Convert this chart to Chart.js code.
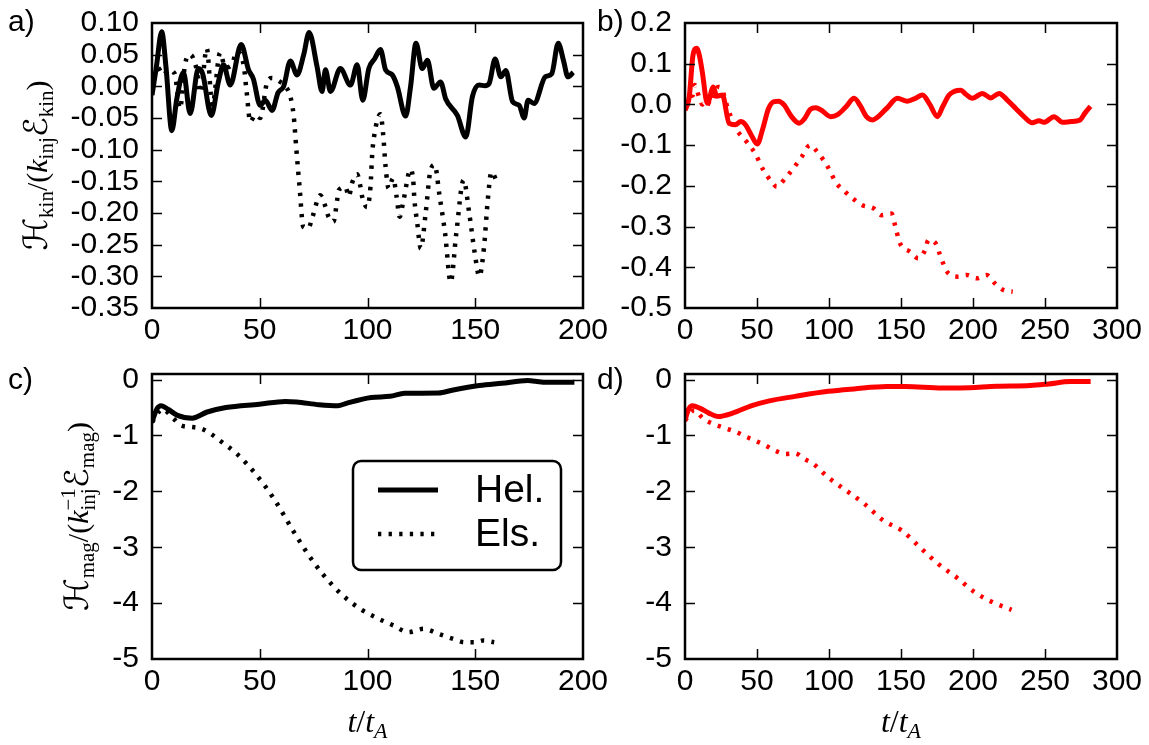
<!DOCTYPE html>
<html>
<head>
<meta charset="utf-8">
<script src="https://cdn.jsdelivr.net/npm/chart.js@4.4.1/dist/chart.umd.min.js"></script>
<style>
  html, body { margin: 0; padding: 0; background: #fff; }
  #wrap { position: relative; width: 1149px; height: 745px; overflow: hidden; }
  canvas { position: absolute; }
</style>
</head>
<body>
<div id="wrap">
  <canvas id="pa" width="625" height="366" style="left:0;top:0"></canvas>
  <canvas id="pb" width="564" height="366" style="left:585px;top:0"></canvas>
  <canvas id="pc" width="625" height="379" style="left:0;top:366px"></canvas>
  <canvas id="pd" width="564" height="379" style="left:585px;top:366px"></canvas>
</div>
<script>
// ---- data: [t/tA, value] ----
const kinHelA = [[0,-0.014],[2,0.03],[4.5,0.086],[6.5,0.03],[9.2,-0.07],[11.5,-0.02],[14.6,0.022],[17.7,-0.043],[21.5,0.028],[23.5,0.02],[27.5,-0.046],[30.8,0.007],[33.2,0.034],[36.3,0.002],[41.4,0.066],[44.8,0.026],[47,0.012],[50.2,-0.03],[52.6,-0.022],[55.7,-0.038],[58.5,-0.01],[61.1,0.0],[64.2,0.04],[67.3,0.018],[70.4,0.05],[72.9,0.085],[76.6,0.031],[78.9,-0.008],[80.5,0.026],[82.8,-0.008],[87.4,0.028],[92.1,0.002],[95.2,0.034],[97.8,-0.022],[100.6,0.028],[103.4,0.044],[106,0.058],[108.4,0.026],[111.5,0.018],[113.8,0.0],[117.7,-0.047],[120,0.0],[122.5,0.068],[125.4,0.028],[127.8,0.041],[130.8,-0.003],[133.9,0.007],[136.3,-0.02],[141.7,-0.046],[145.6,-0.08],[148.7,-0.016],[151.8,0.002],[154.5,0.001],[156.5,0.005],[159.2,0.043],[161.9,0.015],[164.2,0.025],[167.3,-0.024],[170.4,-0.03],[172.7,-0.05],[174.5,-0.022],[177.3,-0.027],[182.5,0.015],[185.5,0.02],[188.5,0.068],[191,0.04],[193,0.015],[195.5,0.022]];
const kinElsA = [[0,0.0],[2.5,0.03],[5.3,0.018],[7.6,0.026],[10.5,0.02],[13,-0.035],[15.3,0.034],[17.7,0.05],[20.5,0.03],[22.5,-0.01],[25.4,0.06],[28,-0.03],[31.6,0.053],[34,0.03],[37,0.034],[39.4,0.055],[42.5,0.034],[43.9,-0.008],[45.6,-0.056],[47.9,-0.045],[50.2,-0.05],[53.3,0.005],[55.7,0.013],[59.5,0.007],[61.9,0.0],[64.2,-0.016],[65.7,-0.045],[67,-0.1],[68.5,-0.16],[70.2,-0.222],[72.6,-0.224],[74.3,-0.208],[78.1,-0.172],[80.5,-0.19],[81.9,-0.206],[84.2,-0.214],[85.9,-0.18],[86.6,-0.164],[89.8,-0.159],[91.3,-0.174],[92.9,-0.152],[95.2,-0.139],[96.7,-0.158],[97.5,-0.174],[99.8,-0.191],[101.4,-0.158],[102.2,-0.106],[103.3,-0.074],[106,-0.044],[107.3,-0.077],[108.4,-0.127],[109.8,-0.161],[111.9,-0.145],[113.5,-0.174],[114.9,-0.206],[116.7,-0.18],[120,-0.131],[121.2,-0.148],[121.8,-0.18],[123.1,-0.216],[124.7,-0.256],[127,-0.2],[129,-0.137],[131.2,-0.124],[133.4,-0.172],[136,-0.232],[138.6,-0.309],[141.2,-0.232],[144.6,-0.148],[147.2,-0.2],[149.8,-0.264],[151.9,-0.3],[154.1,-0.253],[155.8,-0.18],[157.5,-0.135],[160.1,-0.151]];

const kinHelB = [[0,-0.015],[3,0.02],[5.5,0.12],[8.1,0.138],[10,0.12],[12,0.08],[15.5,0.003],[19.7,0.043],[22,0.02],[26,0.023],[30.6,-0.046],[35,-0.05],[38.7,-0.042],[42,-0.05],[46,-0.075],[50.2,-0.097],[54,-0.06],[58,-0.01],[61.8,0.007],[65,0.008],[68.8,-0.001],[74,-0.03],[79.2,-0.046],[83,-0.035],[87,-0.012],[90.8,-0.008],[95,-0.015],[101.2,-0.03],[106,-0.025],[112,-0.005],[117.4,0.015],[122,-0.005],[126,-0.03],[130,-0.038],[140,-0.01],[147.5,0.015],[154.4,0.008],[160,0.015],[164.9,0.023],[170,0.0],[175.3,-0.03],[179,-0.005],[183.4,0.023],[187,0.032],[191.5,0.035],[195,0.025],[199.5,0.015],[206.5,0.027],[212.3,0.016],[218.1,0.027],[224,0.01],[229.7,-0.01],[235.4,-0.03],[241.2,-0.045],[245.8,-0.04],[249.3,-0.044],[256.3,-0.03],[262.2,-0.044],[268,-0.042],[274,-0.039],[278,-0.02],[281.6,-0.005]];
const kinElsB = [[0,0.0],[3,0.02],[5.5,0.023],[6.7,0.048],[9.7,0.019],[12,0.0],[15,0.01],[18,0.0],[20.5,0.03],[23.1,0.043],[26,0.035],[28,0.01],[30.6,-0.018],[34,-0.05],[35.9,-0.063],[42.9,-0.092],[48.6,-0.12],[54.4,-0.161],[60.2,-0.19],[63.7,-0.202],[69.5,-0.182],[75.2,-0.157],[81,-0.129],[86.8,-0.1],[92.6,-0.12],[98.4,-0.149],[105.3,-0.194],[111,-0.214],[117,-0.232],[122.7,-0.247],[130.8,-0.255],[136.6,-0.272],[143.5,-0.268],[145.8,-0.296],[149.3,-0.341],[156.3,-0.362],[162,-0.378],[166.7,-0.358],[169,-0.333],[174.8,-0.345],[177.1,-0.37],[182.9,-0.415],[189.8,-0.423],[195.6,-0.419],[202.6,-0.427],[209.5,-0.419],[215.3,-0.44],[221.1,-0.456],[227.6,-0.46]];

const magHelC = [[0,-0.76],[2.2,-0.53],[4.3,-0.47],[7.4,-0.53],[11.8,-0.64],[18.7,-0.69],[25.6,-0.58],[34.3,-0.5],[49.8,-0.44],[61.9,-0.39],[67.1,-0.4],[77.5,-0.45],[86.2,-0.47],[90.5,-0.42],[101.7,-0.32],[110.4,-0.3],[117.3,-0.245],[132.9,-0.24],[139.8,-0.185],[151.9,-0.107],[162.3,-0.066],[174.4,-0.018],[177.9,-0.03],[183,-0.048],[196,-0.048]];
const magElsC = [[0,-0.76],[4.8,-0.53],[10,-0.7],[13.5,-0.82],[18.7,-0.85],[23,-0.88],[27.3,-0.97],[32.5,-1.12],[39.4,-1.33],[48.1,-1.69],[56.7,-2.14],[65.4,-2.7],[72.3,-3.12],[79.2,-3.48],[87.9,-3.84],[96.5,-4.1],[105.2,-4.28],[112.1,-4.4],[119,-4.52],[126,-4.46],[132.9,-4.55],[139.8,-4.64],[145,-4.7],[150.2,-4.7],[153.6,-4.67],[158.8,-4.7]];

const magHelD = [[0,-0.73],[2.5,-0.53],[5.1,-0.47],[10.2,-0.51],[16.6,-0.6],[22.9,-0.66],[33.1,-0.6],[45.9,-0.47],[58.6,-0.38],[76.5,-0.3],[99.4,-0.21],[117.3,-0.167],[140.2,-0.125],[153,-0.125],[178.4,-0.15],[191.2,-0.15],[216.7,-0.12],[239.6,-0.107],[252.4,-0.078],[267.7,-0.036],[281.7,-0.036]];
const magElsD = [[0,-0.73],[6.4,-0.55],[12.7,-0.7],[20.4,-0.8],[28,-0.87],[35.7,-0.94],[42.1,-1.02],[48.4,-1.09],[56.1,-1.18],[62.5,-1.27],[70.1,-1.33],[76.5,-1.32],[82.8,-1.42],[89.2,-1.51],[99.4,-1.75],[112.2,-1.99],[124.9,-2.23],[137.6,-2.52],[150.4,-2.7],[163.1,-3.0],[175.9,-3.3],[188.6,-3.54],[201.4,-3.81],[214.1,-3.99],[226.8,-4.12]];

// ---- tick values ----
const xTicks200 = [0, 50, 100, 150, 200];
const xTicks300 = [0, 50, 100, 150, 200, 250, 300];
const yTicksA = [0.10, 0.05, 0.00, -0.05, -0.10, -0.15, -0.20, -0.25, -0.30, -0.35];
const yTicksB = [0.2, 0.1, 0.0, -0.1, -0.2, -0.3, -0.4, -0.5];
const yTicksMag = [0, -1, -2, -3, -4, -5];

const LABELS = ['Hel.', 'Els.'];
const BLACK = '#000000';
const RED = '#ff0000';

const TICK_FONT = { family: '"Liberation Sans", Arial, Helvetica, sans-serif', size: 30 };
const SERIF = '"Liberation Serif", "DejaVu Serif", serif';
const SCRIPT = '"DejaVu Serif", "DejaVu Sans", serif';
const TICK_LEN = 10;

function toXY(arr) { return arr.map(([x, y]) => ({ x, y })); }

function lineSet(label, arr, color, dotted) {
  return {
    label,
    data: toXY(arr),
    borderColor: color,
    backgroundColor: color,
    borderWidth: dotted ? 4.5 : 5,
    borderDash: dotted ? [3.3, 7.3] : [],
    borderCapStyle: 'butt',
    borderJoinStyle: 'round',
    pointRadius: 0,
    cubicInterpolationMode: 'monotone',
    fill: false,
  };
}

// draw a run of text pieces; piece = {t, font, dy} or {sup, sub, font, dySup, dySub}
function drawRich(ctx, pieces, x, y, align) {
  const widths = pieces.map(p => {
    ctx.font = p.font;
    if (p.t != null) return ctx.measureText(p.t).width;
    return Math.max(ctx.measureText(p.sup).width, ctx.measureText(p.sub).width);
  });
  const total = widths.reduce((a, b) => a + b, 0);
  let cx = align === 'center' ? x - total / 2 : x;
  ctx.textAlign = 'left';
  ctx.textBaseline = 'alphabetic';
  pieces.forEach((p, i) => {
    ctx.font = p.font;
    if (p.t != null) {
      ctx.fillText(p.t, cx, y + (p.dy || 0));
    } else {
      ctx.fillText(p.sup, cx, y + p.dySup);
      ctx.fillText(p.sub, cx, y + p.dySub);
    }
    cx += widths[i];
  });
}

const M = 30, S = 21, SC = 33;
const yTitleKin = [
  { t: 'ℋ', font: `${SC}px ${SCRIPT}` },
  { t: 'kin', font: `${S}px ${SERIF}`, dy: 6 },
  { t: '/(', font: `${M}px ${SERIF}` },
  { t: 'k', font: `italic ${M}px ${SERIF}` },
  { t: 'inj', font: `${S}px ${SERIF}`, dy: 6 },
  { t: 'ℰ', font: `${SC}px ${SCRIPT}` },
  { t: 'kin', font: `${S}px ${SERIF}`, dy: 6 },
  { t: ')', font: `${M}px ${SERIF}` },
];
const yTitleMag = [
  { t: 'ℋ', font: `${SC}px ${SCRIPT}` },
  { t: 'mag', font: `${S}px ${SERIF}`, dy: 6 },
  { t: '/(', font: `${M}px ${SERIF}` },
  { t: 'k', font: `italic ${M}px ${SERIF}` },
  { sup: '−1', sub: 'inj', font: `${S}px ${SERIF}`, dySup: -13, dySub: 7 },
  { t: 'ℰ', font: `${SC}px ${SCRIPT}` },
  { t: 'mag', font: `${S}px ${SERIF}`, dy: 6 },
  { t: ')', font: `${M}px ${SERIF}` },
];
const xTitle = [
  { t: 't', font: `italic 32px ${SERIF}` },
  { t: '/', font: `32px ${SERIF}` },
  { t: 't', font: `italic 32px ${SERIF}` },
  { t: 'A', font: `italic 22px ${SERIF}`, dy: 6 },
];

// frame with inward ticks on all four sides
const framePlugin = {
  id: 'frame',
  afterDatasetsDraw(chart) {
    const { ctx, chartArea: a, scales: { x, y } } = chart;
    ctx.save();
    ctx.strokeStyle = BLACK;
    ctx.lineWidth = 1.5;
    ctx.beginPath();
    x.ticks.forEach(t => {
      const px = Math.round(x.getPixelForValue(t.value)) + 0.5;
      if (px < a.left + 2 || px > a.right - 2) return;
      ctx.moveTo(px, a.bottom); ctx.lineTo(px, a.bottom - TICK_LEN);
      ctx.moveTo(px, a.top); ctx.lineTo(px, a.top + TICK_LEN);
    });
    y.ticks.forEach(t => {
      const py = Math.round(y.getPixelForValue(t.value)) + 0.5;
      if (py < a.top + 2 || py > a.bottom - 2) return;
      ctx.moveTo(a.left, py); ctx.lineTo(a.left + TICK_LEN, py);
      ctx.moveTo(a.right, py); ctx.lineTo(a.right - TICK_LEN, py);
    });
    ctx.stroke();
    ctx.lineWidth = 2.5;
    ctx.strokeRect(a.left, a.top, a.right - a.left, a.bottom - a.top);
    ctx.restore();
  },
};

// panel letter, axis titles, legend
const annotPlugin = {
  id: 'annot',
  afterDraw(chart, args, o) {
    const { ctx, chartArea: a } = chart;
    ctx.save();
    ctx.fillStyle = BLACK;
    ctx.font = `30px ${TICK_FONT.family}`;
    ctx.textAlign = 'left';
    ctx.textBaseline = 'alphabetic';
    ctx.fillText(o.letter, o.letterX, o.letterY);

    if (o.yTitle) {
      ctx.save();
      ctx.translate(o.yTitleX, (a.top + a.bottom) / 2);
      ctx.rotate(-Math.PI / 2);
      drawRich(ctx, o.yTitle, 0, 0, 'center');
      ctx.restore();
    }
    if (o.xTitle) {
      drawRich(ctx, o.xTitle, (a.left + a.right) / 2, o.xTitleY, 'center');
    }
    if (o.legend) {
      const L = o.legend;
      ctx.lineWidth = 2.5;
      ctx.strokeStyle = BLACK;
      ctx.beginPath();
      ctx.roundRect(L.x, L.y, L.w, L.h, 8);
      ctx.fillStyle = '#fff';
      ctx.fill();
      ctx.stroke();
      chart.data.datasets.forEach((ds, i) => {
        const ly = L.y + L.row0 + i * L.rowGap;
        ctx.save();
        ctx.strokeStyle = ds.borderColor;
        ctx.lineWidth = ds.borderWidth;
        ctx.lineCap = 'butt';
        ctx.setLineDash(ds.borderDash);
        ctx.beginPath();
        ctx.moveTo(L.x + 25, ly);
        ctx.lineTo(L.x + 85, ly);
        ctx.stroke();
        ctx.restore();
        ctx.fillStyle = BLACK;
        ctx.font = `39px ${TICK_FONT.family}`;
        ctx.textBaseline = 'middle';
        ctx.fillText(ds.label, L.x + 122, ly + 1);
      });
    }
    ctx.restore();
  },
};

function makePanel(id, p) {
  return new Chart(document.getElementById(id), {
    type: 'line',
    data: {
      datasets: [
        lineSet(LABELS[0], p.hel, p.color, false),
        lineSet(LABELS[1], p.els, p.color, true),
      ],
    },
    options: {
      responsive: false,
      animation: false,
      events: [],
      layout: { padding: { top: p.padTop, right: p.padRight, left: 0, bottom: 0 } },
      plugins: {
        legend: { display: false },
        tooltip: { enabled: false },
        annot: p.annot,
      },
      scales: {
        x: {
          type: 'linear',
          min: 0,
          max: p.xTicks[p.xTicks.length - 1],
          grid: { display: false, drawTicks: false },
          border: { display: false },
          ticks: { font: TICK_FONT, color: BLACK, padding: 5, maxRotation: 0, autoSkip: false },
          afterBuildTicks: s => { s.ticks = p.xTicks.map(v => ({ value: v })); },
          afterFit: s => { s.height = p.xHeight; s.paddingLeft = 0; s.paddingRight = 0; },
        },
        y: {
          min: p.yMin,
          max: p.yMax,
          grid: { display: false, drawTicks: false },
          border: { display: false },
          ticks: { font: TICK_FONT, color: BLACK, padding: 13, autoSkip: false, callback: p.fmt },
          afterBuildTicks: s => { s.ticks = p.yTicks.map(v => ({ value: v })); },
          afterFit: s => { s.width = p.yWidth; s.paddingTop = 0; s.paddingBottom = 0; },
        },
      },
    },
    plugins: [framePlugin, annotPlugin],
  });
}

makePanel('pa', {
  hel: kinHelA, els: kinElsA, color: BLACK,
  xTicks: xTicks200, yTicks: yTicksA, yMin: -0.35, yMax: 0.10, fmt: v => v.toFixed(2),
  padTop: 23, padRight: 42, yWidth: 152, xHeight: 58,
  annot: { letter: 'a)', letterX: 8, letterY: 31, yTitle: yTitleKin, yTitleX: 47 },
});
makePanel('pb', {
  hel: kinHelB, els: kinElsB, color: RED,
  xTicks: xTicks300, yTicks: yTicksB, yMin: -0.5, yMax: 0.2, fmt: v => v.toFixed(1),
  padTop: 23, padRight: 32, yWidth: 100, xHeight: 58,
  annot: { letter: 'b)', letterX: 12, letterY: 31 },
});
makePanel('pc', {
  hel: magHelC, els: magElsC, color: BLACK,
  xTicks: xTicks200, yTicks: yTicksMag, yMin: -5, yMax: 0.1, fmt: v => String(v),
  padTop: 8, padRight: 42, yWidth: 152, xHeight: 86,
  annot: { letter: 'c)', letterX: 8, letterY: 23, yTitle: yTitleMag, yTitleX: 88,
           xTitle: xTitle, xTitleY: 366,
           legend: { x: 353, y: 95, w: 208, h: 109, row0: 29, rowGap: 44 } },
});
makePanel('pd', {
  hel: magHelD, els: magElsD, color: RED,
  xTicks: xTicks300, yTicks: yTicksMag, yMin: -5, yMax: 0.1, fmt: v => String(v),
  padTop: 8, padRight: 32, yWidth: 100, xHeight: 86,
  annot: { letter: 'd)', letterX: 12, letterY: 23, xTitle: xTitle, xTitleY: 366 },
});
</script>
</body>
</html>
